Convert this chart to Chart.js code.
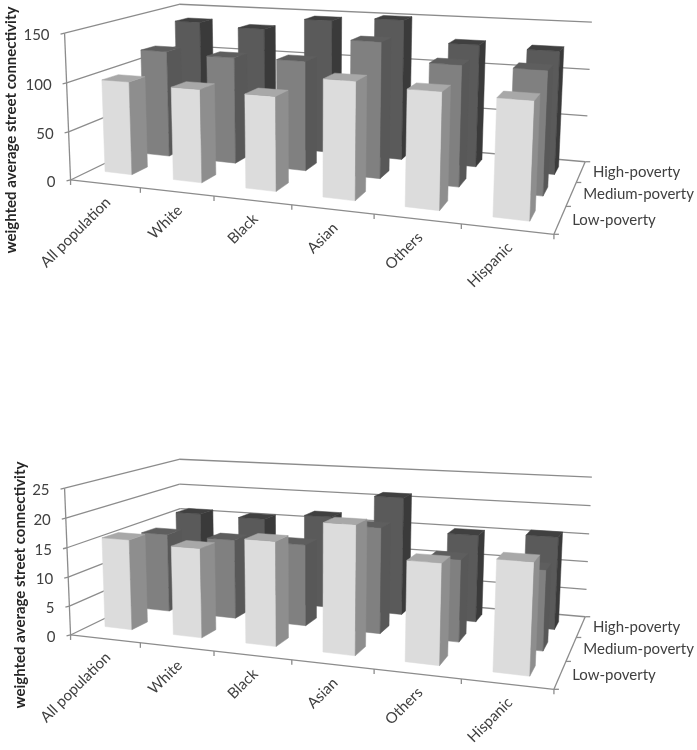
<!DOCTYPE html>
<html>
<head>
<meta charset="utf-8">
<script src="https://cdn.jsdelivr.net/npm/chart.js@4"></script>
<style>
  html, body { margin: 0; padding: 0; background: #fff; overflow: hidden; }
  canvas { position: absolute; left: 0; filter: blur(0.4px); }
  #top_chart { top: 0; }
  #bottom_chart { top: 455px; }
</style>
</head>
<body>
<canvas id="top_chart" width="697" height="300"></canvas>
<canvas id="bottom_chart" width="697" height="300"></canvas>
<script>
const categories = ['All population', 'White', 'Black', 'Asian', 'Others', 'Hispanic'];
const rows = ['Low-poverty', 'Medium-poverty', 'High-poverty'];
const axis_title = 'weighted average street connectivity';

const top_low = [96, 94, 93, 113, 109, 107];
const top_medium = [115, 113, 114, 138, 120, 120];
const top_high = [137, 133, 146, 150, 128, 126];

const bottom_low = [15.5, 15, 17.1, 20.6, 15.7, 16.9];
const bottom_medium = [14.1, 14, 14.1, 17.9, 13.6, 13];
const bottom_high = [15.8, 15.6, 16.8, 21, 15.2, 15.8];

const text_color = '#404040';
const line_color = '#8c8c8c';
const font_name = 'Lato';

// front, top, side
const row_colors = [
    ['#dcdcdc', '#a8a8a8', '#8e8e8e'],
    ['#808080', '#5e5e5e', '#585858'],
    ['#5a5a5a', '#404040', '#3a3a3a'],
];

// where the corners of the 3d box land on the canvas: [u, v, w, x, y]
const box_corners = [
    [0, 0, 0, 73, 176],
    [1, 0, 0, 554, 238],
    [0, 0, 1, 179, 131],
    [1, 0, 1, 586, 157],
    [0, 1, 0, 62, 34],
    [0, 1, 1, 182, 2],
    [1, 1, 1, 591, 24],
];

// the bars sit a little further back on the left than the walls suggest
const bar_corners = [
    [0, 0, 0, 75, 171],
    [1, 0, 0, 554, 238],
    [0, 0, 1, 179, 131],
    [1, 0, 1, 586, 157],
    [0, 1, 0, 64, 29],
    [0, 1, 1, 182, 2],
    [1, 1, 1, 591, 24],
];

function solve (A, b) {
    const n = b.length;
    const M = A.map((r, i) => r.concat(b[i]));
    for (let i = 0; i < n; i++) {
        let p = i;
        for (let k = i + 1; k < n; k++) if (Math.abs(M[k][i]) > Math.abs(M[p][i])) p = k;
        [M[i], M[p]] = [M[p], M[i]];
        for (let k = 0; k < n; k++) {
            if (k === i) continue;
            const f = M[k][i] / M[i][i];
            for (let j = i; j <= n; j++) M[k][j] -= f * M[i][j];
        }
    }
    return M.map((r, i) => r[n] / r[i]);
}

// least squares fit of a projection from a set of corners
function fit_projection (corners) {
    const A = [], b = [];
    corners.forEach(([u, v, w, x, y]) => {
        A.push([u, v, w, 1, 0, 0, 0, 0, -x * u, -x * v, -x * w]); b.push(x);
        A.push([0, 0, 0, 0, u, v, w, 1, -y * u, -y * v, -y * w]); b.push(y);
    });
    const n = 11;
    const AtA = [], Atb = [];
    for (let i = 0; i < n; i++) {
        AtA.push([]);
        for (let j = 0; j < n; j++) AtA[i].push(A.reduce((s, r) => s + r[i] * r[j], 0));
        Atb.push(A.reduce((s, r, k) => s + r[i] * b[k], 0));
    }
    const m = solve(AtA, Atb);
    return (u, v, w) => {
        const d = m[8] * u + m[9] * v + m[10] * w + 1;
        return [(m[0] * u + m[1] * v + m[2] * w + m[3]) / d, (m[4] * u + m[5] * v + m[6] * w + m[7]) / d];
    };
}

const project = fit_projection(box_corners);
const project_bar = fit_projection(bar_corners);

function line (ctx, a, b) {
    ctx.beginPath();
    ctx.moveTo(a[0], a[1]);
    ctx.lineTo(b[0], b[1]);
    ctx.stroke();
}

function face (ctx, pts, color) {
    ctx.fillStyle = color;
    ctx.strokeStyle = color;
    ctx.lineWidth = 0.5;
    ctx.beginPath();
    pts.forEach((p, i) => i ? ctx.lineTo(p[0], p[1]) : ctx.moveTo(p[0], p[1]));
    ctx.closePath();
    ctx.fill();
    ctx.stroke();
}

function draw_box (chart) {
    const { ctx, scales } = chart;
    const y_scale = scales.y;
    ctx.save();
    ctx.strokeStyle = line_color;
    ctx.lineWidth = 1.3;

    // value gridlines on both walls, with ticks and their labels
    ctx.font = '15px ' + font_name;
    ctx.textAlign = 'right';
    ctx.textBaseline = 'middle';
    y_scale.ticks.forEach((t) => {
        const v = y_scale.getDecimalForPixel(y_scale.getPixelForValue(t.value));
        const a = project(0, v, 0), b = project(0, v, 1), c = project(1, v, 1);
        ctx.strokeStyle = line_color;
        line(ctx, [a[0] - 4, a[1] + 1], a);
        line(ctx, a, b);
        line(ctx, b, c);
        ctx.fillStyle = text_color;
        ctx.fillText(t.label, a[0] - 15, a[1] + 2);
    });
    line(ctx, project(0, 0, 0), project(0, 1, 0));

    // floor edges
    line(ctx, project(0, 0, 0), project(1, 0, 0));
    line(ctx, project(1, 0, 0), project(1, 0, 1));

    // category ticks
    const n = categories.length;
    for (let i = 0; i <= n; i++) {
        const p = project(i / n, 0, 0);
        line(ctx, p, [p[0], p[1] + 5]);
    }
    // depth ticks
    for (let i = 0; i <= rows.length; i++) {
        const p = project(1, 0, i / rows.length);
        line(ctx, p, [p[0] + 5, p[1]]);
    }

    ctx.fillStyle = text_color;
    ctx.font = '15px ' + font_name;

    // category labels, turned up 45 degrees
    scales.x.getLabels().forEach((label, i) => {
        const p = project((i + 0.5) / n, 0, 0);
        ctx.save();
        ctx.translate(p[0] + 3, p[1] + 16);
        ctx.rotate(-Math.PI / 4);
        ctx.textAlign = 'right';
        ctx.textBaseline = 'middle';
        ctx.fillText(label, 0, 0);
        ctx.restore();
    });

    // row labels on the right
    ctx.textAlign = 'left';
    ctx.textBaseline = 'middle';
    scales.z.getLabels().forEach((label, i) => {
        const p = project(1, 0, (i + 0.5) / rows.length);
        ctx.fillText(label, p[0] + 12, p[1]);
    });

    // axis title
    ctx.save();
    ctx.translate(chart.options.plugins.box3d.title_x, 130);
    ctx.rotate(-Math.PI / 2);
    ctx.textAlign = 'center';
    ctx.font = 'bold 15px ' + font_name;
    ctx.fillStyle = '#262626';
    ctx.fillText(axis_title, 0, 0);
    ctx.restore();

    ctx.restore();
}

function draw_bars (chart) {
    const { ctx, chartArea, scales } = chart;
    const depth = chart.options.plugins.box3d.bar_depth;
    const row_width = chartArea.width / rows.length;
    const u_of = (px) => (px - chartArea.left) / chartArea.width;
    const p = project_bar;

    // dataset 0 is the front row, so go from the last one forward
    for (let d = chart.data.datasets.length - 1; d >= 0; d--) {
        const colors = row_colors[d];
        const z_px = scales.z.getPixelForValue(d);
        const w0 = u_of(z_px - row_width * depth / 2);
        const w1 = u_of(z_px + row_width * depth / 2);
        chart.getDatasetMeta(d).data.forEach((bar) => {
            const u0 = u_of(bar.x - bar.width / 2);
            const u1 = u_of(bar.x + bar.width / 2);
            const v = scales.y.getDecimalForPixel(bar.y);
            face(ctx, [p(u0, 0, w0), p(u1, 0, w0), p(u1, v, w0), p(u0, v, w0)], colors[0]);
            face(ctx, [p(u1, 0, w0), p(u1, 0, w1), p(u1, v, w1), p(u1, v, w0)], colors[2]);
            face(ctx, [p(u0, v, w0), p(u1, v, w0), p(u1, v, w1), p(u0, v, w1)], colors[1]);
        });
    }
}

const box3d = {
    id: 'box3d',
    beforeDatasetsDraw (chart) {
        draw_box(chart);
        draw_bars(chart);
        return false;
    },
};

function new_chart (id, low, medium, high, y_max, y_step, title_x) {
    new Chart(document.getElementById(id).getContext('2d'), {
        type: 'bar',
        plugins: [box3d],
        data: {
            labels: categories,
            datasets: [
                { label: rows[0], data: low },
                { label: rows[1], data: medium },
                { label: rows[2], data: high },
            ],
        },
        options: {
            responsive: false,
            animation: false,
            layout: { padding: 0 },
            datasets: { bar: { grouped: false, categoryPercentage: 0.4, barPercentage: 1 } },
            scales: {
                x: { display: false },
                y: { display: false, min: 0, max: y_max, ticks: { stepSize: y_step } },
                z: { type: 'category', axis: 'x', labels: rows, offset: true, display: false },
            },
            plugins: {
                legend: { display: false },
                tooltip: { enabled: false },
                box3d: { title_x, bar_depth: 0.4 },
            },
        },
    });
}

new_chart('top_chart', top_low, top_medium, top_high, 150, 50, 11);
new_chart('bottom_chart', bottom_low, bottom_medium, bottom_high, 25, 5, 20);
</script>
</body>
</html>
